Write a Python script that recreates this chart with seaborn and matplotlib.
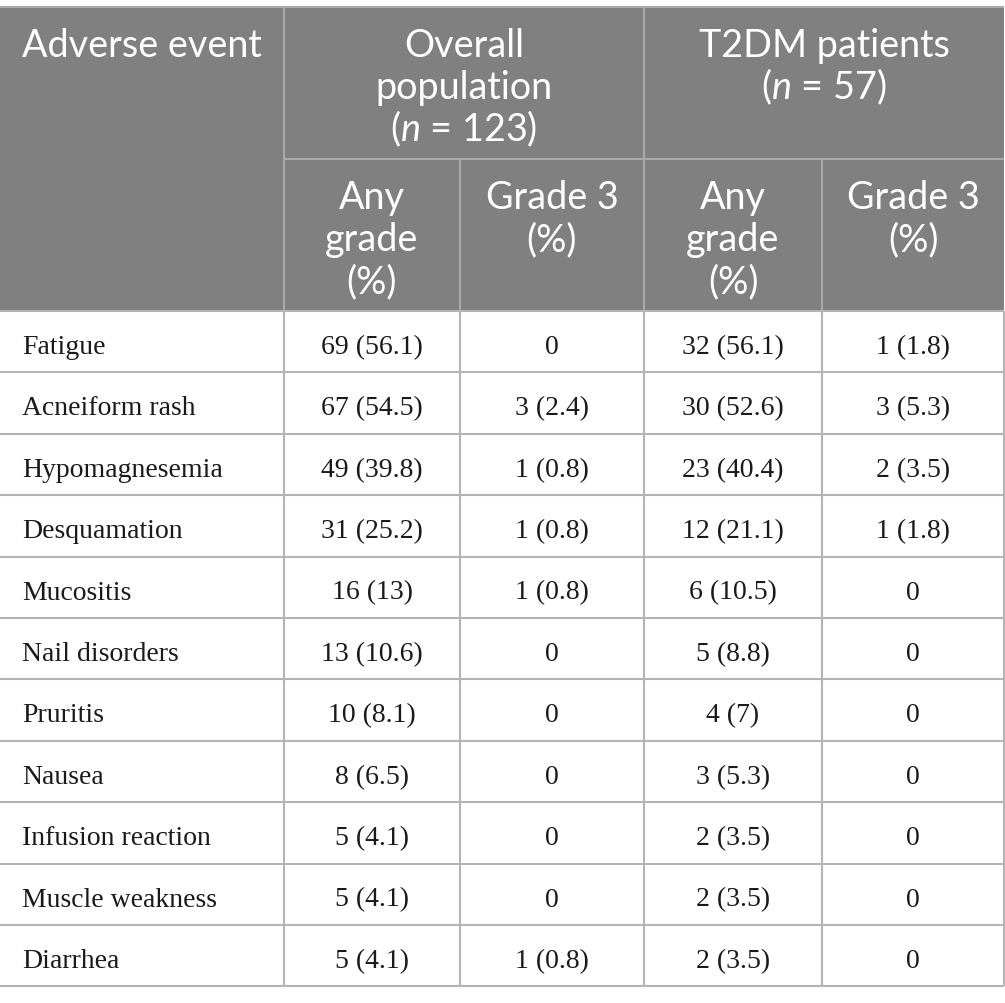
import seaborn as sns
import matplotlib.pyplot as plt
import matplotlib.patches as mpatches
import numpy as np

#%% table data

events = ["Fatigue", "Acneiform rash", "Hypomagnesemia", "Desquamation",
          "Mucositis", "Nail disorders", "Pruritis", "Nausea",
          "Infusion reaction", "Muscle weakness", "Diarrhea"]
overall_any = ["69 (56.1)", "67 (54.5)", "49 (39.8)", "31 (25.2)", "16 (13)",
               "13 (10.6)", "10 (8.1)", "8 (6.5)", "5 (4.1)", "5 (4.1)", "5 (4.1)"]
overall_g3 = ["0", "3 (2.4)", "1 (0.8)", "1 (0.8)", "1 (0.8)",
              "0", "0", "0", "0", "0", "1 (0.8)"]
t2dm_any = ["32 (56.1)", "30 (52.6)", "23 (40.4)", "12 (21.1)", "6 (10.5)",
            "5 (8.8)", "4 (7)", "3 (5.3)", "2 (3.5)", "2 (3.5)", "2 (3.5)"]
t2dm_g3 = ["1 (1.8)", "3 (5.3)", "2 (3.5)", "1 (1.8)", "0",
           "0", "0", "0", "0", "0", "0"]

first_col_title = "Adverse event"
group_titles = [["Overall", "population", "($n$ = 123)"],
                ["T2DM patients", "($n$ = 57)"]]
sub_titles = [["Any", "grade", "(%)"], ["Grade 3", "(%)"],
              ["Any", "grade", "(%)"], ["Grade 3", "(%)"]]

#%% style

sns.set_theme(style="white")
plt.rcParams['font.family'] = ['Lato', 'DejaVu Sans']
plt.rcParams['mathtext.fontset'] = 'custom'
plt.rcParams['mathtext.rm'] = 'Lato'
plt.rcParams['mathtext.it'] = 'Lato:italic'

head_bg = "#808080"
head_line = "#a9a9a9"
body_line = "#b4b4b4"
head_fs = 27.2
body_fs = 20

# layout (pixels)
col_edges = [0, 284, 460, 644, 822, 1004]
top, mid, head_bot = 8, 160, 312
row_h = 61.4
line_gap = 42

fig = plt.figure(figsize=(10.05, 10.04), dpi=100)
ax = fig.add_axes([0, 0, 1, 1])
ax.set_xlim(0, 1005)
ax.set_ylim(1004, 0)
ax.axis("off")

n_rows = len(events)
bottom = head_bot + n_rows * row_h

#%% header

ax.add_patch(mpatches.Rectangle((0, top), col_edges[-1], head_bot - top,
                                facecolor=head_bg, edgecolor="none", zorder=1))
ax.hlines(top, 0, col_edges[-1], color=head_line, lw=1.5, zorder=2)
ax.hlines(mid, col_edges[1], col_edges[-1], color=head_line, lw=1.5, zorder=2)
ax.vlines([col_edges[1], col_edges[3]], top, head_bot, color=head_line, lw=1.5, zorder=2)
ax.vlines([col_edges[2], col_edges[4]], mid, head_bot, color=head_line, lw=1.5, zorder=2)

ax.text(22, top + 49, first_col_title, color="white", fontsize=head_fs,
        ha="left", va="baseline", zorder=3)

for g, lines in enumerate(group_titles):
    xc = (col_edges[1 + 2 * g] + col_edges[3 + 2 * g]) / 2
    for k, s in enumerate(lines):
        ax.text(xc, top + 49 + k * line_gap, s, color="white", fontsize=head_fs,
                ha="center", va="baseline", zorder=3)

for c, lines in enumerate(sub_titles):
    xc = (col_edges[c + 1] + col_edges[c + 2]) / 2
    for k, s in enumerate(lines):
        ax.text(xc, mid + 49 + k * line_gap, s, color="white", fontsize=head_fs,
                ha="center", va="baseline", zorder=3)

#%% body

row_tops = head_bot + np.arange(n_rows + 1) * row_h
ax.hlines(row_tops, 0, col_edges[-1], color=body_line, lw=1.5, zorder=2)
ax.vlines(col_edges[1:], head_bot, bottom, color=body_line, lw=1.5, zorder=2)

columns = [overall_any, overall_g3, t2dm_any, t2dm_g3]
for i, ev in enumerate(events):
    yb = row_tops[i] + 42
    ax.text(22, yb, ev, family=["Liberation Serif", "DejaVu Serif"],
            fontsize=body_fs, color="#1a1a1a", ha="left", va="baseline")
    for c, vals in enumerate(columns):
        xc = (col_edges[c + 1] + col_edges[c + 2]) / 2
        ax.text(xc, yb, vals[i], family=["Liberation Serif", "DejaVu Serif"],
                fontsize=body_fs, color="#1a1a1a", ha="center", va="baseline")

plt.savefig("out.png", dpi=100, facecolor="white")
plt.close()
